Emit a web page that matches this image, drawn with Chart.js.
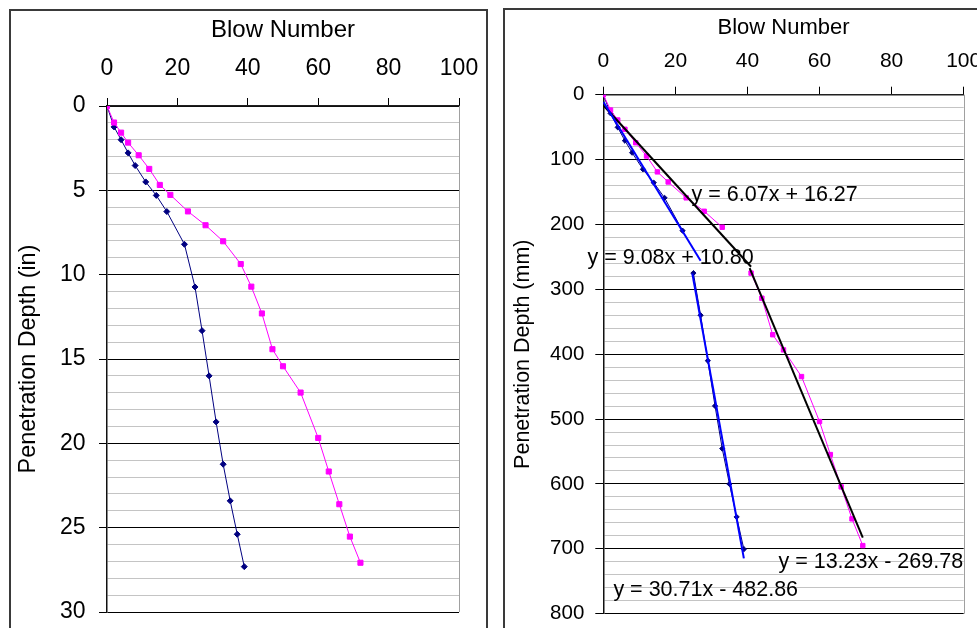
<!DOCTYPE html>
<html>
<head>
<meta charset="utf-8">
<script src="https://cdn.jsdelivr.net/npm/chart.js@4.4.1/dist/chart.umd.min.js"></script>
<style>
  html, body { margin: 0; padding: 0; background: #fff; }
  body { width: 977px; height: 628px; position: relative; overflow: hidden; }
  .frame { position: absolute; border: 2px solid #3a3a3a; box-sizing: border-box; }
  #f1 { left: 9px; top: 9px; width: 479px; height: 650px; }
  #f2 { left: 503px; top: 8px; width: 520px; height: 650px; }
  .box { position: absolute; top: 0; height: 628px; }
  #b1 { left: 0; width: 490px; }
  #b2 { left: 490px; width: 487px; }
  canvas { display: block; }
</style>
</head>
<body>
<div class="frame" id="f1"></div>
<div class="frame" id="f2"></div>
<div class="box" id="b1"><canvas id="c1" width="490" height="628"></canvas></div>
<div class="box" id="b2"><canvas id="c2" width="487" height="628"></canvas></div>
<script>
// ---- Penetration test, depth in inches ----
const blueBlowsIn = [0, 2, 4, 6, 8, 11, 14, 17, 22, 25, 27, 29, 31, 33, 35, 37, 39];
const blueDepthIn = [0, 1.24, 2.0, 2.78, 3.53, 4.5, 5.3, 6.26, 8.2, 10.73, 13.32, 16.0, 18.73, 21.24, 23.41, 25.39, 27.31];
const pinkBlowsIn = [0, 2, 4, 6, 9, 12, 15, 18, 23, 28, 33, 38, 41, 44, 47, 50, 55, 60, 63, 66, 69, 72];
const pinkDepthIn = [0, 0.98, 1.58, 2.17, 2.92, 3.73, 4.68, 5.27, 6.25, 7.07, 8.02, 9.37, 10.71, 12.3, 14.42, 15.43, 16.99, 19.68, 21.67, 23.61, 25.53, 27.08];

// ---- Same tests in millimetres, split into two segments each ----
const blueBlowsMmA = [0, 2, 4, 6, 8, 11, 14, 17, 22];
const blueDepthMmA = [0, 28.7, 50.3, 70.9, 89.4, 115, 135.6, 159, 209.6];
const blueBlowsMmB = [25, 27, 29, 31, 33, 35, 37, 39];
const blueDepthMmB = [275, 340, 410, 479.7, 545.5, 600, 650.8, 700.5];
const pinkBlowsMmA = [0, 2, 4, 6, 9, 12, 15, 18, 23, 28, 33];
const pinkDepthMmA = [0, 23.6, 39, 53.3, 74, 94.5, 119, 134.5, 159, 179.7, 204.3];
const pinkBlowsMmB = [41, 44, 47, 50, 55, 60, 63, 66, 69, 72];
const pinkDepthMmB = [275, 313.7, 370, 393.4, 434.5, 503.8, 554.7, 604.5, 653.8, 695];

// ---- Linear fits (depth = slope * blows + intercept) ----
const trendSlope     = [9.08, 6.07, 30.71, 13.23];
const trendIntercept = [10.80, 16.27, -482.86, -269.78];
const trendFrom      = [0, 0, 24.7, 40.6];
const trendTo        = [27, 41, 39, 72];

// ---- Axis ticks ----
const blowTicks = [0, 20, 40, 60, 80, 100];
const depthInMajor = [0, 5, 10, 15, 20, 25, 30];
const depthMmMajor = [0, 100, 200, 300, 400, 500, 600, 700, 800];

const FONT = "'Liberation Sans', Arial, sans-serif";
const NAVY = '#000080';
const PINK = '#ff00ff';

function pts(xs, ys) { return xs.map((x, i) => ({ x: x, y: ys[i] })); }

function gridSteps(max, step) {
  const out = [];
  for (let v = 0; v <= max + 1e-9; v += step) out.push({ value: Math.round(v * 1000) / 1000 });
  return out;
}

function eqText(i) {
  const b = trendIntercept[i];
  return 'y = ' + trendSlope[i].toFixed(2) + 'x ' + (b < 0 ? '- ' : '+ ') + Math.abs(b).toFixed(2);
}

function trendPoints(i) {
  return [trendFrom[i], trendTo[i]].map(x => ({ x: x, y: trendSlope[i] * x + trendIntercept[i] }));
}

// Gray right edge of the plot area
const plotEdge = {
  id: 'plotEdge',
  beforeDatasetsDraw(chart) {
    const { ctx, chartArea: a } = chart;
    ctx.save();
    ctx.strokeStyle = '#a0a0a0';
    ctx.lineWidth = 1;
    ctx.beginPath();
    ctx.moveTo(Math.round(a.right) + 0.5, a.top);
    ctx.lineTo(Math.round(a.right) + 0.5, a.bottom);
    ctx.stroke();
    ctx.restore();
  }
};

// Fit equations written next to the trend lines
const eqLabels = {
  id: 'eqLabels',
  afterDatasetsDraw(chart, args, opts) {
    if (!opts.items) return;
    const { ctx, scales } = chart;
    ctx.save();
    ctx.font = opts.size + 'px ' + FONT;
    ctx.fillStyle = '#000';
    ctx.textAlign = 'left';
    ctx.textBaseline = 'alphabetic';
    opts.items.forEach(it => {
      ctx.fillText(eqText(it.fit), scales.x.getPixelForValue(it.x), scales.y.getPixelForValue(it.y));
    });
    ctx.restore();
  }
};

function axisSet(cfg) {
  const isMajor = (v) => cfg.majors.includes(v);
  return {
    x: {
      type: 'linear', position: 'top', min: 0, max: 100,
      afterBuildTicks: s => { s.ticks = blowTicks.map(v => ({ value: v })); },
      ticks: { color: '#000', font: { family: FONT, size: cfg.xTickSize }, padding: cfg.xTickPad, maxRotation: 0 },
      grid: { drawOnChartArea: false, tickLength: 8, color: '#000', tickColor: '#000', lineWidth: 1 },
      border: { display: true, color: '#202020', width: 1.5 },
      title: { display: true, text: 'Blow Number', color: '#000', font: { family: FONT, size: cfg.xTitleSize }, padding: { top: cfg.xTitlePad, bottom: 0 } },
      afterFit: s => { s.height = cfg.top; s.paddingLeft = 0; s.paddingRight = 0; }
    },
    y: {
      type: 'linear', position: 'left', reverse: true, min: 0, max: cfg.yMax,
      afterBuildTicks: s => { s.ticks = gridSteps(cfg.yMax, cfg.yStep); },
      ticks: {
        autoSkip: false, color: '#000', font: { family: FONT, size: cfg.yTickSize }, padding: cfg.yTickPad,
        callback: v => (isMajor(v) ? String(v) : '')
      },
      grid: {
        tickLength: 8, lineWidth: 1,
        color: c => (c.tick && isMajor(c.tick.value) ? '#000' : '#c4c4c4'),
        tickColor: c => (c.tick && isMajor(c.tick.value) ? '#000' : 'rgba(0,0,0,0)')
      },
      border: { display: true, color: '#101010', width: 1.5 },
      title: { display: true, text: cfg.yTitle, color: '#000', font: { family: FONT, size: cfg.yTitleSize }, padding: { top: cfg.yTitlePad, bottom: 0 } },
      afterFit: s => { s.width = cfg.left; s.paddingTop = 0; s.paddingBottom = 0; }
    }
  };
}

const common = {
  responsive: false,
  animation: false,
  events: [],
  plugins: { legend: { display: false }, tooltip: { enabled: false } }
};

// Left chart: depth in inches
new Chart(document.getElementById('c1'), {
  type: 'scatter',
  data: {
    datasets: [
      {
        data: pts(pinkBlowsIn, pinkDepthIn), showLine: true, order: 0,
        borderColor: PINK, backgroundColor: PINK, borderWidth: 1,
        pointStyle: 'rect', pointRadius: 3.6, pointBorderWidth: 1, pointBorderColor: PINK
      },
      {
        data: pts(blueBlowsIn, blueDepthIn), showLine: true, order: 1,
        borderColor: NAVY, backgroundColor: NAVY, borderWidth: 1,
        pointStyle: 'rectRot', pointRadius: 3, pointBorderWidth: 1, pointBorderColor: NAVY
      }
    ]
  },
  options: Object.assign({}, common, {
    layout: { padding: { left: 0, top: 0, right: 31, bottom: 16 } },
    scales: axisSet({
      top: 106, left: 107, yMax: 30, yStep: 1, majors: depthInMajor,
      xTickSize: 23, xTickPad: 15.5, xTitleSize: 24, xTitlePad: 16,
      yTickSize: 23, yTickPad: 13.5, yTitle: 'Penetration Depth (in)', yTitleSize: 23.4, yTitlePad: 14.7
    })
  }),
  plugins: [plotEdge]
});

// Right chart: depth in millimetres with linear fits
const trendColors = ['#0000ff', '#000000', '#0000ff', '#000000'];
const trendSets = trendSlope.map((m, i) => ({
  data: trendPoints(i), showLine: true, order: 0,
  borderColor: trendColors[i], borderWidth: 2, pointRadius: 0
}));

const mmSeries = [
  [pinkBlowsMmA, pinkDepthMmA, PINK, 'rect', 3.1],
  [pinkBlowsMmB, pinkDepthMmB, PINK, 'rect', 3.1],
  [blueBlowsMmA, blueDepthMmA, NAVY, 'rectRot', 2.6],
  [blueBlowsMmB, blueDepthMmB, NAVY, 'rectRot', 2.6]
].map((s, i) => ({
  data: pts(s[0], s[1]), showLine: true, order: 1 + i,
  borderColor: s[2], backgroundColor: s[2], borderWidth: 1,
  pointStyle: s[3], pointRadius: s[4], pointBorderWidth: 1, pointBorderColor: s[2]
}));

new Chart(document.getElementById('c2'), {
  type: 'scatter',
  data: { datasets: trendSets.concat(mmSeries) },
  options: Object.assign({}, common, {
    layout: { padding: { left: 0, top: 0, right: 13.3, bottom: 14.3 } },
    scales: axisSet({
      top: 94.7, left: 113.3, yMax: 800, yStep: 20, majors: depthMmMajor,
      xTickSize: 21, xTickPad: 12.4, xTitleSize: 22, xTitlePad: 14.9,
      yTickSize: 20.5, yTickPad: 11, yTitle: 'Penetration Depth (mm)', yTitleSize: 21.5, yTitlePad: 20
    }),
    plugins: Object.assign({}, common.plugins, {
      eqLabels: {
        size: 21.5,
        items: [
          { fit: 1, x: 24.5, y: 163.8 },
          { fit: 0, x: -4.4, y: 261 },
          { fit: 3, x: 48.6, y: 728.8 },
          { fit: 2, x: 2.8, y: 772.4 }
        ]
      }
    })
  }),
  plugins: [plotEdge, eqLabels]
});
</script>
</body>
</html>
